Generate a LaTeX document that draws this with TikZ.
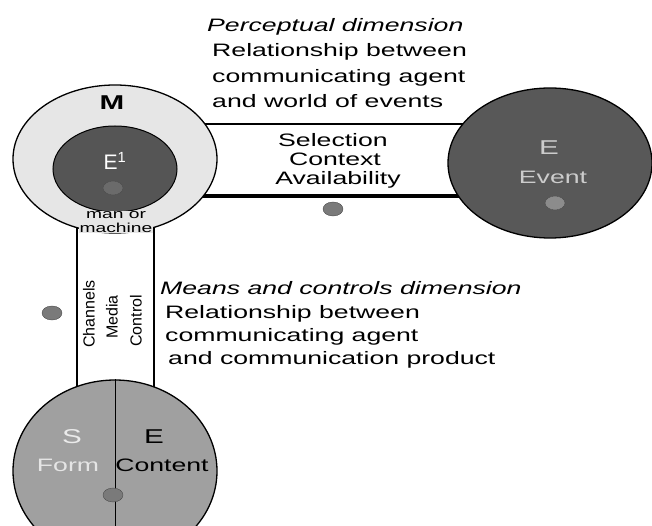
\documentclass[tikz,border=0pt]{standalone}
\usepackage{fontspec}
\setmainfont{Liberation Sans}
\newfontfamily\widefont{Liberation Sans}[FakeStretch=1.48]
\usetikzlibrary{shapes.geometric,backgrounds}
\definecolor{outerfill}{HTML}{E6E6E6}
\definecolor{innerfill}{HTML}{555555}
\definecolor{eventfill}{HTML}{585858}
\definecolor{prodfill}{HTML}{A0A0A0}
\definecolor{dotfill}{HTML}{7A7A7A}
\tikzset{
 blob/.style={ellipse, draw=black, line width=1.3pt, inner sep=0pt},
 dot/.style={ellipse, draw=black!70, fill=dotfill, minimum width=20pt, minimum height=14pt, inner sep=0pt},
 txt/.style={font=\widefont\fontsize{18}{20}\selectfont, inner sep=0pt},
 itxt/.style={font=\widefont\itshape\fontsize{18}{20}\selectfont, inner sep=0pt},
 bigtxt/.style={font=\widefont\fontsize{20}{20}\selectfont, inner sep=0pt},
 vtxt/.style={font=\fontsize{16}{16}\selectfont, rotate=90, inner sep=0pt},
 conn/.style={line width=1.5pt},
}
\begin{document}
\begin{tikzpicture}[x=1pt,y=-1pt]
\useasboundingbox (0,0) rectangle (652,526);
\clip (0,0) rectangle (652,526);
% main shapes
\node[blob, fill=outerfill, minimum width=204pt, minimum height=148pt] (M) at (115,159) {};
\node[blob, fill=innerfill, line width=1pt, minimum width=124pt, minimum height=86pt] (I) at (115,169) {};
\node[blob, fill=eventfill, minimum width=204pt, minimum height=150pt] (Ev) at (550,163) {};
\node[blob, fill=prodfill, minimum width=204pt, minimum height=182pt] (P) at (115,471) {};
\draw[line width=1pt] (P.north) -- (P.south);
% connectors
\begin{scope}[on background layer]
\draw[conn] ([yshift=35pt]M.center) -- ([yshift=35pt]M.center -| Ev.center);
\draw[line width=3.5pt] ([yshift=-37pt]M.center) -- ([yshift=-37pt]M.center -| Ev.center);
\draw[conn] ([xshift=-38pt]M.center) -- ([xshift=-38pt]M.center |- P.center);
\draw[conn] ([xshift=39pt]M.center) -- ([xshift=39pt]M.center |- P.center);
\end{scope}
% upper text
\node[itxt, anchor=base west] (p1) at (207,32) {Perceptual dimension};
\node[txt, anchor=base west] (p2) at (212,57) {Relationship between};
\node[txt, anchor=base west] (p3) at (212,83) {communicating agent};
\node[txt, anchor=base west] (p4) at (212,108) {and world of events};
\node[txt, anchor=base] (s1) at (333,147) {Selection};
\node[txt, anchor=base] (s2) at (335,166) {Context};
\node[txt, anchor=base] (s3) at (338,185) {Availability};
% lower text
\node[itxt, anchor=base west] (m1) at (160,294) {Means and controls dimension};
\node[txt, anchor=base west] (m2) at (165,318) {Relationship between};
\node[txt, anchor=base west] (m3) at (165,341) {communicating agent};
\node[txt, anchor=base west] (m4) at (168,364) {and communication product};
% left circle labels
\node[font=\widefont\bfseries\fontsize{20}{20}\selectfont, inner sep=0pt] (Mlab) at (112,103) {M};
\node[font=\fontsize{21}{21}\selectfont, text=white, inner sep=0pt] (E1) at (115,161) {E\textsuperscript{1}};
\node[dot, fill=black!58] (d1) at (113,188) {};
\node[font=\widefont\fontsize{13}{13.5}\selectfont, fill=outerfill, align=center, inner sep=0.5pt] (mm) at (116,222) {man or\\machine};
% event labels
\node[bigtxt, text=black!20] (EvE) at (549,148) {E};
\node[txt, text=black!20] (Evt) at (553,177) {Event};
% dots
\node[dot] (d2) at (333,209) {};
\node[dot, fill=black!45] (d3) at (555,203) {};
\node[dot] (d4) at (52,313) {};
\node[dot] (d5) at (113,495) {};
% channel labels
\node[vtxt] (ch) at (89,314) {Channels};
\node[vtxt] (me) at (112,317) {Media};
\node[vtxt] (co) at (136,321) {Control};
% product labels
\node[bigtxt, text=black!8] (S) at (72,437) {S};
\node[txt, text=black!10] (Fo) at (68,465) {Form};
\node[bigtxt] (E2) at (154,437) {E};
\node[txt] (Co) at (162,465) {Content};
\end{tikzpicture}
\end{document}
